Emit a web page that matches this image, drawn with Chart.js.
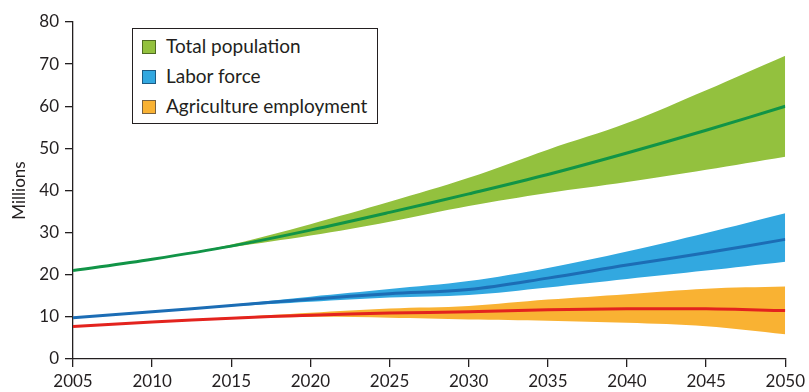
<!DOCTYPE html>
<html>
<head>
<meta charset="utf-8">
<script src="https://cdn.jsdelivr.net/npm/chart.js@4"></script>
<style>
  html, body { margin: 0; padding: 0; background: #fff; }
  #wrap { position: relative; width: 809px; height: 392px; }
  #legend {
    position: absolute; left: 132px; top: 28px; width: 244px; height: 94px;
    border: 1.5px solid #231f20; background: #fff;
    font-family: Lato, "Open Sans", sans-serif; font-size: 19px; color: #231f20;
  }
  .item { position: absolute; left: 9px; height: 22px; line-height: 22px; white-space: nowrap; }
  .sw { display: inline-block; width: 12px; height: 12px; border: 1px solid; vertical-align: -1px; margin-right: 10px; }
</style>
</head>
<body>
<div id="wrap">
  <canvas id="myChart" width="809" height="392"></canvas>
  <div id="legend"></div>
</div>
<script>
var years = [2005, 2010, 2015, 2020, 2025, 2030, 2035, 2040, 2045, 2050];

// Total population
var popMid  = [21.0, 23.7, 26.8, 30.6, 34.8, 39.2, 43.8, 48.9, 54.3, 60.0];
var popHigh = [21.0, 23.7, 27.2, 32.0, 37.3, 43.0, 49.7, 56.0, 63.8, 72.0];
var popLow  = [21.0, 23.7, 26.5, 29.3, 32.6, 36.3, 39.4, 42.0, 44.9, 48.0];

// Labor force
var labMid  = [9.8, 11.2, 12.7, 14.2, 15.5, 16.5, 19.2, 22.3, 25.2, 28.4];
var labHigh = [9.8, 11.2, 12.9, 14.8, 16.6, 18.5, 21.6, 25.5, 29.9, 34.6];
var labLow  = [9.8, 11.2, 12.5, 13.6, 14.6, 15.2, 17.0, 19.0, 21.0, 23.1];

// Agriculture employment
var agMid  = [7.7, 8.8, 9.7, 10.4, 10.9, 11.2, 11.7, 11.9, 11.9, 11.5];
var agHigh = [7.7, 8.8, 9.9, 11.0, 12.0, 12.6, 14.1, 15.4, 16.7, 17.2];
var agLow  = [7.7, 8.8, 9.6, 10.0, 9.8, 9.4, 9.1, 8.6, 7.8, 5.9];

var yTicks = [0, 10, 20, 30, 40, 50, 60, 70, 80];

var legendItems = [
  { label: 'Total population', fill: '#93c13e', border: '#4f6b23' },
  { label: 'Labor force', fill: '#32a8e0', border: '#1d5a82' },
  { label: 'Agriculture employment', fill: '#f9b233', border: '#7a6240' }
];

var pts = function (arr) {
  return arr.map(function (v, i) { return { x: years[i], y: v }; });
};

var band = function (arr, color, fill) {
  return {
    data: pts(arr), borderWidth: 0, pointRadius: 0, fill: fill,
    backgroundColor: color, borderColor: color, tension: 0.35
  };
};
var line = function (arr, color) {
  return {
    data: pts(arr), borderWidth: 3, pointRadius: 0, fill: false,
    borderColor: color, tension: 0.35
  };
};

var ink = '#231f20';
var font = { family: 'Lato, "Open Sans", sans-serif', size: 17 };

var ctx = document.getElementById('myChart').getContext('2d');
// lines come first so they are painted on top of the bands
// eslint-disable-next-line no-unused-vars
var chart = new Chart(ctx, {
  type: 'line',
  data: {
    datasets: [
      line(popMid, '#119447'),
      line(labMid, '#1c6db5'),
      line(agMid, '#e3231e'),
      band(popHigh, '#93c13e', '+1'),
      band(popLow, '#93c13e', false),
      band(labHigh, '#32a8e0', '+1'),
      band(labLow, '#32a8e0', false),
      band(agHigh, '#f9b233', '+1'),
      band(agLow, '#f9b233', false)
    ]
  },
  options: {
    responsive: false,
    animation: false,
    layout: { padding: { top: 22, right: 22, left: 0, bottom: 0 } },
    plugins: { legend: { display: false }, tooltip: { enabled: false } },
    scales: {
      x: {
        type: 'linear', min: 2005, max: 2050,
        afterFit: function (s) { s.height = 33; },
        afterBuildTicks: function (s) { s.ticks = years.map(function (v) { return { value: v }; }); },
        ticks: { color: ink, font: font, padding: 4, maxRotation: 0, callback: function (v) { return String(v); } },
        grid: { display: true, drawOnChartArea: false, tickLength: 8, color: ink, lineWidth: 1.3 },
        border: { color: ink, width: 1.3 }
      },
      y: {
        min: 0, max: 80,
        afterFit: function (s) { s.width = 73; },
        afterBuildTicks: function (s) { s.ticks = yTicks.map(function (v) { return { value: v }; }); },
        ticks: { color: ink, font: font, padding: 6 },
        grid: { display: true, drawOnChartArea: false, tickLength: 8, color: ink, lineWidth: 1.3 },
        border: { color: ink, width: 1.3 },
        title: { display: true, text: 'Millions', color: ink, font: font, padding: { top: 9, bottom: 0 } }
      }
    }
  }
});

var lg = document.getElementById('legend');
legendItems.forEach(function (it, i) {
  var d = document.createElement('div');
  d.className = 'item';
  d.style.top = (6 + i * 30) + 'px';
  d.innerHTML = '<span class="sw" style="background:' + it.fill + ';border-color:' + it.border + '"></span>' + it.label;
  lg.appendChild(d);
});
</script>
</body>
</html>
